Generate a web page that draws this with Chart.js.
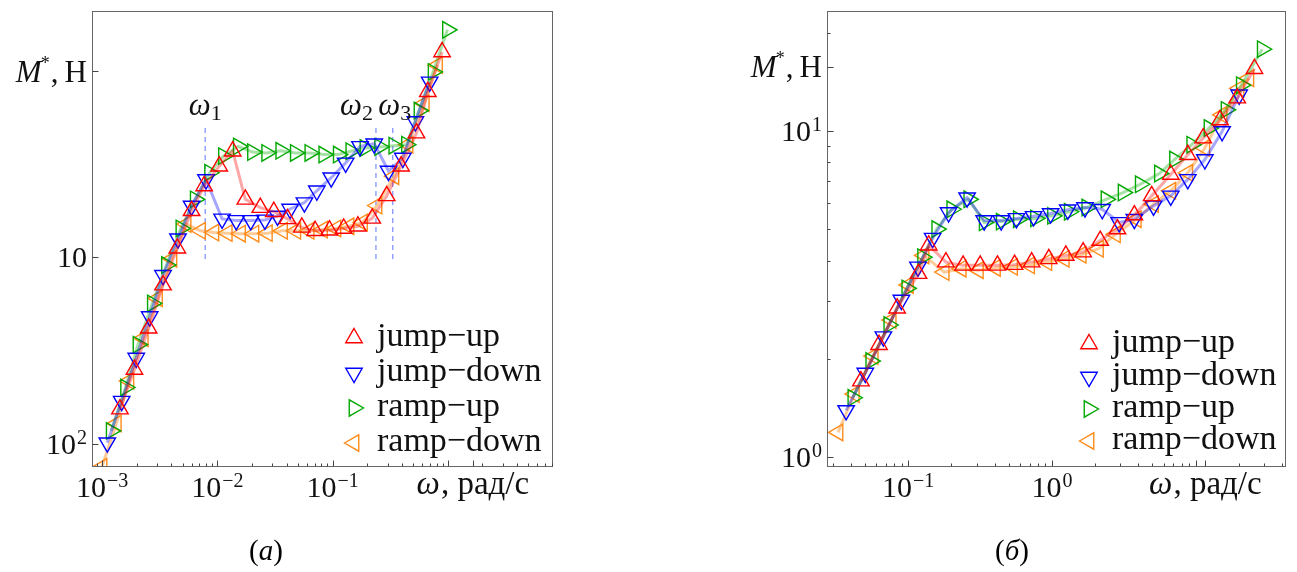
<!DOCTYPE html>
<html>
<head>
<meta charset="utf-8">
<script src="https://cdn.jsdelivr.net/npm/chart.js@4.4.1/dist/chart.umd.min.js"></script>
<style>
  body { margin: 0; background: #fff; overflow: hidden; }
  #wrap { position: relative; width: 1297px; height: 572px; }
  canvas { position: absolute; left: 0; top: 0; }
  .cap { position: absolute; top: 550px; transform: translate(-50%, -50%); font: 29px "Liberation Serif", serif; line-height: 1; }
  .cap i { font-style: italic; }
</style>
</head>
<body>
<div id="wrap">
  <canvas id="chartA" width="1297" height="572"></canvas>
  <canvas id="chartB" width="1297" height="572"></canvas>
  <div class="cap" style="left:266px">(<i>a</i>)</div>
  <div class="cap" style="left:1012px">(<i>б</i>)</div>
</div>
<script>
// ---- panel (a) data ----
const aJumpUpX = [0.00143, 0.00191, 0.00254, 0.00338, 0.0045, 0.00598, 0.00769, 0.0104, 0.0136, 0.0175, 0.0236, 0.0309, 0.0407, 0.0541, 0.0706, 0.094, 0.125, 0.166, 0.221, 0.295, 0.393, 0.535, 0.671, 0.892];
const aJumpUpY = [0.0153, 0.025, 0.0416, 0.071, 0.112, 0.178, 0.242, 0.309, 0.372, 0.205, 0.185, 0.176, 0.161, 0.145, 0.139, 0.140, 0.143, 0.147, 0.162, 0.214, 0.309, 0.465, 0.776, 1.27];
const aJumpDownX = [0.00111, 0.00148, 0.00198, 0.00259, 0.00338, 0.00456, 0.00598, 0.00798, 0.0110, 0.0146, 0.0195, 0.0259, 0.0333, 0.0428, 0.0570, 0.0730, 0.0974, 0.130, 0.173, 0.230, 0.306, 0.407, 0.523, 0.696];
const aJumpDownY = [0.0101, 0.0169, 0.0288, 0.0481, 0.0802, 0.126, 0.189, 0.262, 0.161, 0.158, 0.158, 0.159, 0.167, 0.182, 0.197, 0.228, 0.268, 0.322, 0.395, 0.408, 0.291, 0.342, 0.537, 0.877];
const aRampUpX = [0.0012, 0.0016, 0.00205, 0.00273, 0.00362, 0.00483, 0.00643, 0.00857, 0.0113, 0.0152, 0.0202, 0.0268, 0.0355, 0.0475, 0.0635, 0.0839, 0.112, 0.144, 0.191, 0.256, 0.340, 0.438, 0.562, 0.745, 0.993];
const aRampUpY = [0.0117, 0.0200, 0.0340, 0.0566, 0.0910, 0.143, 0.205, 0.285, 0.350, 0.395, 0.368, 0.364, 0.374, 0.364, 0.364, 0.357, 0.357, 0.372, 0.387, 0.392, 0.398, 0.403, 0.615, 0.992, 1.67];
const aRampDownX = [0.001, 0.00133, 0.00171, 0.00228, 0.00303, 0.00404, 0.00536, 0.00716, 0.00934, 0.0122, 0.0159, 0.0208, 0.0272, 0.0368, 0.0480, 0.0626, 0.0819, 0.107, 0.139, 0.182, 0.243, 0.341, 0.452, 0.625, 0.814];
const aRampDownY = [0.0075, 0.0128, 0.0217, 0.0368, 0.0602, 0.0983, 0.151, 0.139, 0.136, 0.135, 0.134, 0.134, 0.135, 0.139, 0.139, 0.139, 0.141, 0.143, 0.147, 0.154, 0.190, 0.273, 0.403, 0.672, 1.08];
const aGuideX = [0.00785, 0.238, 0.333];
const aGuideY = [0.098, 0.5];
const aGuideNames = ['1', '2', '3'];
const aXTicks = [0.001, 0.01, 0.1];
const aXTickExp = ['−3', '−2', '−1'];
const aYTicks = [0.01, 0.1];
const aYTickExp = ['2', ''];

// ---- panel (б) data ----
const bJumpUpX = [0.0469, 0.0627, 0.0838, 0.118, 0.139, 0.183, 0.241, 0.317, 0.418, 0.550, 0.723, 0.952, 1.25, 1.65, 2.17, 2.86, 3.75, 4.95, 6.72, 8.83, 11.3, 14.8, 19.5, 25.7];
const bJumpUpY = [1.71, 2.21, 2.86, 3.65, 4.46, 3.96, 3.87, 3.87, 3.87, 3.89, 3.96, 4.05, 4.15, 4.25, 4.61, 5.00, 5.52, 6.32, 7.35, 8.45, 9.50, 10.8, 12.6, 15.5];
const bJumpDownX = [0.0370, 0.0503, 0.0672, 0.0897, 0.117, 0.148, 0.191, 0.257, 0.338, 0.444, 0.567, 0.746, 0.980, 1.29, 1.70, 2.24, 2.94, 3.75, 5.10, 6.72, 8.83, 11.6, 15.3, 20.1];
const bJumpDownY = [1.39, 1.81, 2.34, 3.03, 3.83, 4.69, 5.62, 6.24, 5.31, 5.31, 5.39, 5.47, 5.58, 5.73, 5.82, 5.75, 5.24, 5.36, 5.89, 6.32, 7.10, 8.17, 9.96, 12.9];
const bRampUpX = [0.0412, 0.0549, 0.0733, 0.0978, 0.126, 0.158, 0.201, 0.264, 0.338, 0.444, 0.584, 0.769, 1.01, 1.32, 1.75, 2.38, 3.13, 4.12, 5.60, 7.14, 9.40, 12.4, 16.3, 20.8, 29.1];
const bRampUpY = [1.52, 1.97, 2.54, 3.29, 4.10, 5.00, 5.75, 6.17, 5.24, 5.27, 5.36, 5.39, 5.49, 5.65, 5.82, 6.17, 6.47, 6.86, 7.40, 8.17, 9.07, 10.2, 11.6, 13.8, 17.8];
const bRampDownX = [0.0325, 0.0422, 0.0571, 0.0762, 0.1005, 0.129, 0.178, 0.234, 0.308, 0.405, 0.533, 0.700, 0.923, 1.22, 1.60, 2.11, 2.77, 3.87, 5.10, 6.72, 8.83, 11.6, 15.3, 20.1, 23.5];
const bRampDownY = [1.19, 1.56, 2.04, 2.63, 3.37, 4.15, 3.69, 3.78, 3.74, 3.80, 3.83, 3.87, 3.96, 4.05, 4.17, 4.35, 4.82, 5.36, 5.96, 6.55, 7.44, 8.86, 11.2, 13.5, 14.5];
const bXTicks = [0.1, 1];
const bXTickExp = ['−1', '0'];
const bYTicks = [1, 10];
const bYTickExp = ['0', '1'];

const seriesNames = ['jump−up', 'jump−down', 'ramp−up', 'ramp−down'];
const markColors = ['#ff0000', '#0000ff', '#00a800', '#ff8c1a'];
const lineColors = ['rgba(255,0,0,0.35)', 'rgba(0,0,255,0.35)', 'rgba(0,168,0,0.35)', 'rgba(255,140,26,0.45)'];
const rotations = [0, 180, 90, 270];

const SERIF = '"Liberation Serif", "DejaVu Serif", serif';
const MARK_R = 9.5;

function series(i, xs, ys) {
  return {
    label: seriesNames[i],
    data: xs.map((x, k) => ({ x, y: ys[k] })),
    borderColor: lineColors[i],
    borderWidth: 3,
    pointStyle: 'triangle',
    pointRotation: rotations[i],
    pointRadius: MARK_R,
    pointHoverRadius: MARK_R,
    pointBorderColor: markColors[i],
    pointBackgroundColor: 'rgba(0,0,0,0)',
    pointBorderWidth: 1.4,
    order: 1
  };
}

function guide(x) {
  return {
    label: 'guide',
    data: [{ x, y: aGuideY[0] }, { x, y: aGuideY[1] }],
    borderColor: 'rgba(90,110,255,0.8)',
    borderWidth: 1.2,
    borderDash: [5, 4],
    pointRadius: 0,
    order: 5
  };
}

function logMinors(min, max) {
  const out = [];
  for (let e = Math.floor(Math.log10(min)); e <= Math.ceil(Math.log10(max)); e++) {
    for (let k = 2; k <= 9; k++) {
      const v = k * Math.pow(10, e);
      if (v > min && v < max) out.push(v);
    }
  }
  return out;
}

// draws a row of text pieces with own fonts / vertical shifts
function runs(ctx, parts, x, y, align) {
  let w = 0;
  parts.forEach(p => { ctx.font = p.font; p.w = ctx.measureText(p.t).width + (p.gap || 0); w += p.w; });
  let cx = align === 'center' ? x - w / 2 : align === 'right' ? x - w : x;
  ctx.textAlign = 'left';
  ctx.textBaseline = 'alphabetic';
  parts.forEach(p => { ctx.font = p.font; ctx.fillText(p.t, cx + (p.pre || 0), y + (p.dy || 0)); cx += p.w; });
}

function pow10(ctx, exp, x, y, align) {
  const parts = [{ t: '10', font: '30px ' + SERIF }];
  if (exp) parts.push({ t: exp, font: '20px ' + SERIF, dy: -10, pre: 1, gap: 1 });
  runs(ctx, parts, x, y, align);
}

function marker(ctx, i, x, y) {
  ctx.strokeStyle = markColors[i];
  ctx.fillStyle = 'rgba(0,0,0,0)';
  ctx.lineWidth = 1.4;
  Chart.helpers.drawPoint(ctx, { pointStyle: 'triangle', rotation: rotations[i], radius: MARK_R, borderWidth: 1.4 }, x, y);
}

function deco(cfg) {
  return {
    id: 'deco',
    afterDraw(chart) {
      const ctx = chart.ctx;
      const a = chart.chartArea;
      const xs = chart.scales.x, ys = chart.scales.y;
      ctx.save();
      ctx.strokeStyle = '#666';
      ctx.lineWidth = 1;
      const L = Math.round(a.left) + 0.5, B = Math.round(a.bottom) - 0.5;
      ctx.strokeRect(L, Math.round(a.top) + 0.5, Math.round(a.right - a.left) - 1, Math.round(a.bottom - a.top) - 1);
      // tick marks, drawn inward
      ctx.strokeStyle = '#444';
      ctx.beginPath();
      const xMaj = cfg.xMajor.concat(cfg.xPlain, [cfg.xTitleAt]);
      xMaj.forEach(v => { const p = Math.round(xs.getPixelForValue(v)) + 0.5; ctx.moveTo(p, B); ctx.lineTo(p, B - 6); });
      logMinors(xs.min, xs.max).forEach(v => { if (xMaj.some(m => Math.abs(m - v) < 1e-9)) return; const p = Math.round(xs.getPixelForValue(v)) + 0.5; ctx.moveTo(p, B); ctx.lineTo(p, B - 3); });
      const yMaj = cfg.yMajor.concat([cfg.yTitleAt]);
      yMaj.forEach(v => { const p = Math.round(ys.getPixelForValue(v)) + 0.5; ctx.moveTo(L, p); ctx.lineTo(L + 6, p); });
      if (cfg.yMinor) logMinors(ys.min, ys.max).forEach(v => { if (yMaj.some(m => Math.abs(m - v) < 1e-9)) return; const p = Math.round(ys.getPixelForValue(v)) + 0.5; ctx.moveTo(L, p); ctx.lineTo(L + 3, p); });
      ctx.stroke();
      // tick labels
      ctx.fillStyle = '#111';
      cfg.xMajor.forEach((v, i) => pow10(ctx, cfg.xExp[i], xs.getPixelForValue(v), 497, 'center'));
      cfg.yMajor.forEach((v, i) => pow10(ctx, cfg.yExp[i], a.left - 5, ys.getPixelForValue(v) + 10, 'right'));
      // axis titles
      runs(ctx, [
        { t: 'M', font: 'italic 31px ' + SERIF },
        { t: '*', font: '18px ' + SERIF, dy: -13, pre: -1 },
        { t: ',\u2009Н', font: '31px ' + SERIF }
      ], a.left - 5, ys.getPixelForValue(cfg.yTitleAt) + 10.5, 'right');
      runs(ctx, [
        { t: 'ω', font: 'italic 33px ' + SERIF, gap: 1 },
        { t: ', рад/с', font: '33px ' + SERIF }
      ], xs.getPixelForValue(cfg.xTitleAt), 494, 'center');
      // omega marks
      (cfg.guides || []).forEach((g, i) => {
        const px = xs.getPixelForValue(g.x) + g.dx;
        runs(ctx, [
          { t: 'ω', font: 'italic 31px ' + SERIF },
          { t: aGuideNames[i], font: '22px ' + SERIF, dy: 5 }
        ], px, 115, g.align);
      });
      // legend
      cfg.legendY.forEach((y, i) => {
        marker(ctx, i, cfg.legendX, y);
        ctx.fillStyle = '#111';
        ctx.font = '34px ' + SERIF;
        ctx.textAlign = 'left';
        ctx.textBaseline = 'alphabetic';
        ctx.fillText(seriesNames[i], cfg.legendTextX, y + 8);
      });
      ctx.restore();
    }
  };
}

function makeChart(id, datasets, lim, pad, yWidth, cfg) {
  return new Chart(document.getElementById(id), {
    type: 'line',
    data: { datasets },
    options: {
      responsive: false,
      animation: false,
      layout: { padding: { left: 0, top: 7, right: pad, bottom: 0 } },
      plugins: { legend: { display: false }, tooltip: { enabled: false } },
      scales: {
        x: {
          type: 'logarithmic', min: lim[0], max: lim[1],
          grid: { display: false }, border: { display: false }, ticks: { display: false },
          afterFit: s => { s.height = 105; }
        },
        y: {
          type: 'logarithmic', min: lim[2], max: lim[3],
          grid: { display: false }, border: { display: false }, ticks: { display: false },
          afterFit: s => { s.width = yWidth; }
        }
      }
    },
    plugins: [deco(cfg)]
  });
}

makeChart('chartA', [
  guide(aGuideX[0]), guide(aGuideX[1]), guide(aGuideX[2]),
  series(0, aJumpUpX, aJumpUpY),
  series(1, aJumpDownX, aJumpDownY),
  series(2, aRampUpX, aRampUpY),
  series(3, aRampDownX, aRampDownY)
], [0.000818, 8.18, 0.00748, 2.11], 1297 - 553, 92, {
  xMajor: aXTicks, xExp: aXTickExp, xPlain: [1], xTitleAt: 1.65,
  yMajor: aYTicks, yExp: aYTickExp, yTitleAt: 1, yMinor: false,
  legendX: 354, legendTextX: 377, legendY: [338, 373, 408, 443],
  guides: [
    { x: aGuideX[0], dx: 0, align: 'center' },
    { x: aGuideX[1], dx: -3, align: 'right' },
    { x: aGuideX[2], dx: 2, align: 'center' }
  ]
});

makeChart('chartB', [
  series(0, bJumpUpX, bJumpUpY),
  series(1, bJumpDownX, bJumpDownY),
  series(2, bRampUpX, bRampUpY),
  series(3, bRampDownX, bRampDownY)
], [0.02723, 42.66, 0.9324, 23.32], 10, 827, {
  xMajor: bXTicks, xExp: bXTickExp, xPlain: [10], xTitleAt: 11.7,
  yMajor: bYTicks, yExp: bYTickExp, yTitleAt: 15.7, yMinor: true,
  legendX: 1089, legendTextX: 1112, legendY: [344, 377, 409, 441]
});
</script>
</body>
</html>
